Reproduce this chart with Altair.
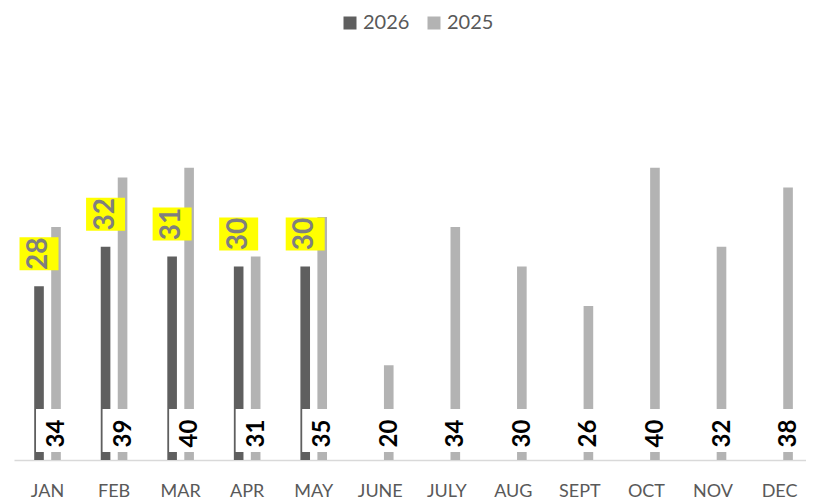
import altair as alt
import pandas as pd

months = ["JAN", "FEB", "MAR", "APR", "MAY", "JUNE", "JULY", "AUG", "SEPT", "OCT", "NOV", "DEC"]
series_names = ["2026", "2025"]
values_2026 = [28, 32, 31, 30, 30]
values_2025 = [34, 39, 40, 31, 35, 20, 34, 30, 26, 40, 32, 38]

rows = []
for m, v in zip(months, values_2026):
    rows.append({"month": m, "series": "2026", "value": v})
for m, v in zip(months, values_2025):
    rows.append({"month": m, "series": "2025", "value": v})
df = pd.DataFrame(rows)

Y_MIN, Y_MAX = 10.4, 50
BOX_LO, BOX_HI, LABEL_Y = 11.21, 15.56, 13.08
FONT = "Lato"

x_enc = alt.X(
    "month:N", sort=months,
    scale=alt.Scale(paddingInner=0.6, paddingOuter=0.2505, align=0.606),
    axis=alt.Axis(title=None, labelAngle=0, ticks=False, domainColor="#d9d9d9",
                  domainWidth=1.5, labelFont=FONT, labelFontSize=18,
                  labelColor="#595959", labelPadding=22),
)
xo_enc = alt.XOffset("series:N", sort=series_names,
                     scale=alt.Scale(domain=series_names, paddingInner=0.434, paddingOuter=0))
yscale = alt.Scale(domain=[Y_MIN, Y_MAX], zero=False, nice=False)

base = alt.Chart(df)

bars = base.mark_bar().encode(
    x=x_enc, xOffset=xo_enc,
    y=alt.Y("value:Q", scale=yscale, axis=None),
    y2=alt.Y2Datum(Y_MIN),
    color=alt.Color(
        "series:N", sort=series_names,
        scale=alt.Scale(domain=series_names, range=["#5f5f5f", "#b3b3b3"]),
        legend=alt.Legend(title=None, orient="none", legendX=326, legendY=-56,
                          direction="horizontal", symbolType="square", symbolSize=169,
                          symbolStrokeWidth=0, labelFont=FONT, labelFontSize=20,
                          labelColor="#595959", columnPadding=14, labelOffset=3, padding=0),
    ),
)

white_boxes = base.transform_filter(alt.datum.series == "2025").mark_bar(
    width=40, color="white"
).encode(
    x=x_enc, xOffset=xo_enc,
    y=alt.YDatum(BOX_HI, scale=yscale, axis=None),
    y2=alt.Y2Datum(BOX_LO),
)

labels_2025 = base.transform_filter(alt.datum.series == "2025").mark_text(
    angle=270, font=FONT, fontSize=24, fontWeight="bold", color="black",
    align="center", baseline="middle", dy=1
).encode(
    x=x_enc, xOffset=xo_enc,
    y=alt.YDatum(LABEL_Y, scale=yscale, axis=None),
    text="value:Q",
)

yellow_boxes = base.transform_filter(alt.datum.series == "2026").mark_bar(
    width=39, color="#ffff00", yOffset=-16, y2Offset=-49
).encode(
    x=x_enc, xOffset=xo_enc,
    y=alt.Y("value:Q", scale=yscale, axis=None),
    y2=alt.Y2("value:Q"),
)

labels_2026 = base.transform_filter(alt.datum.series == "2026").mark_text(
    angle=270, font=FONT, fontSize=28, fontWeight="bold", color="#7f7f7f",
    align="center", baseline="middle", yOffset=-32.5
).encode(
    x=x_enc, xOffset=xo_enc,
    y=alt.Y("value:Q", scale=yscale, axis=None),
    text="value:Q",
)

chart = alt.layer(bars, white_boxes, labels_2025, yellow_boxes, labels_2026).properties(
    width=792, height=391,
    padding={"left": 6, "top": 61, "right": 0, "bottom": 41},
    autosize="none",
    background="white",
).configure_view(stroke=None)

chart.save("out.html", embed_options={"renderer": "svg", "actions": False})
